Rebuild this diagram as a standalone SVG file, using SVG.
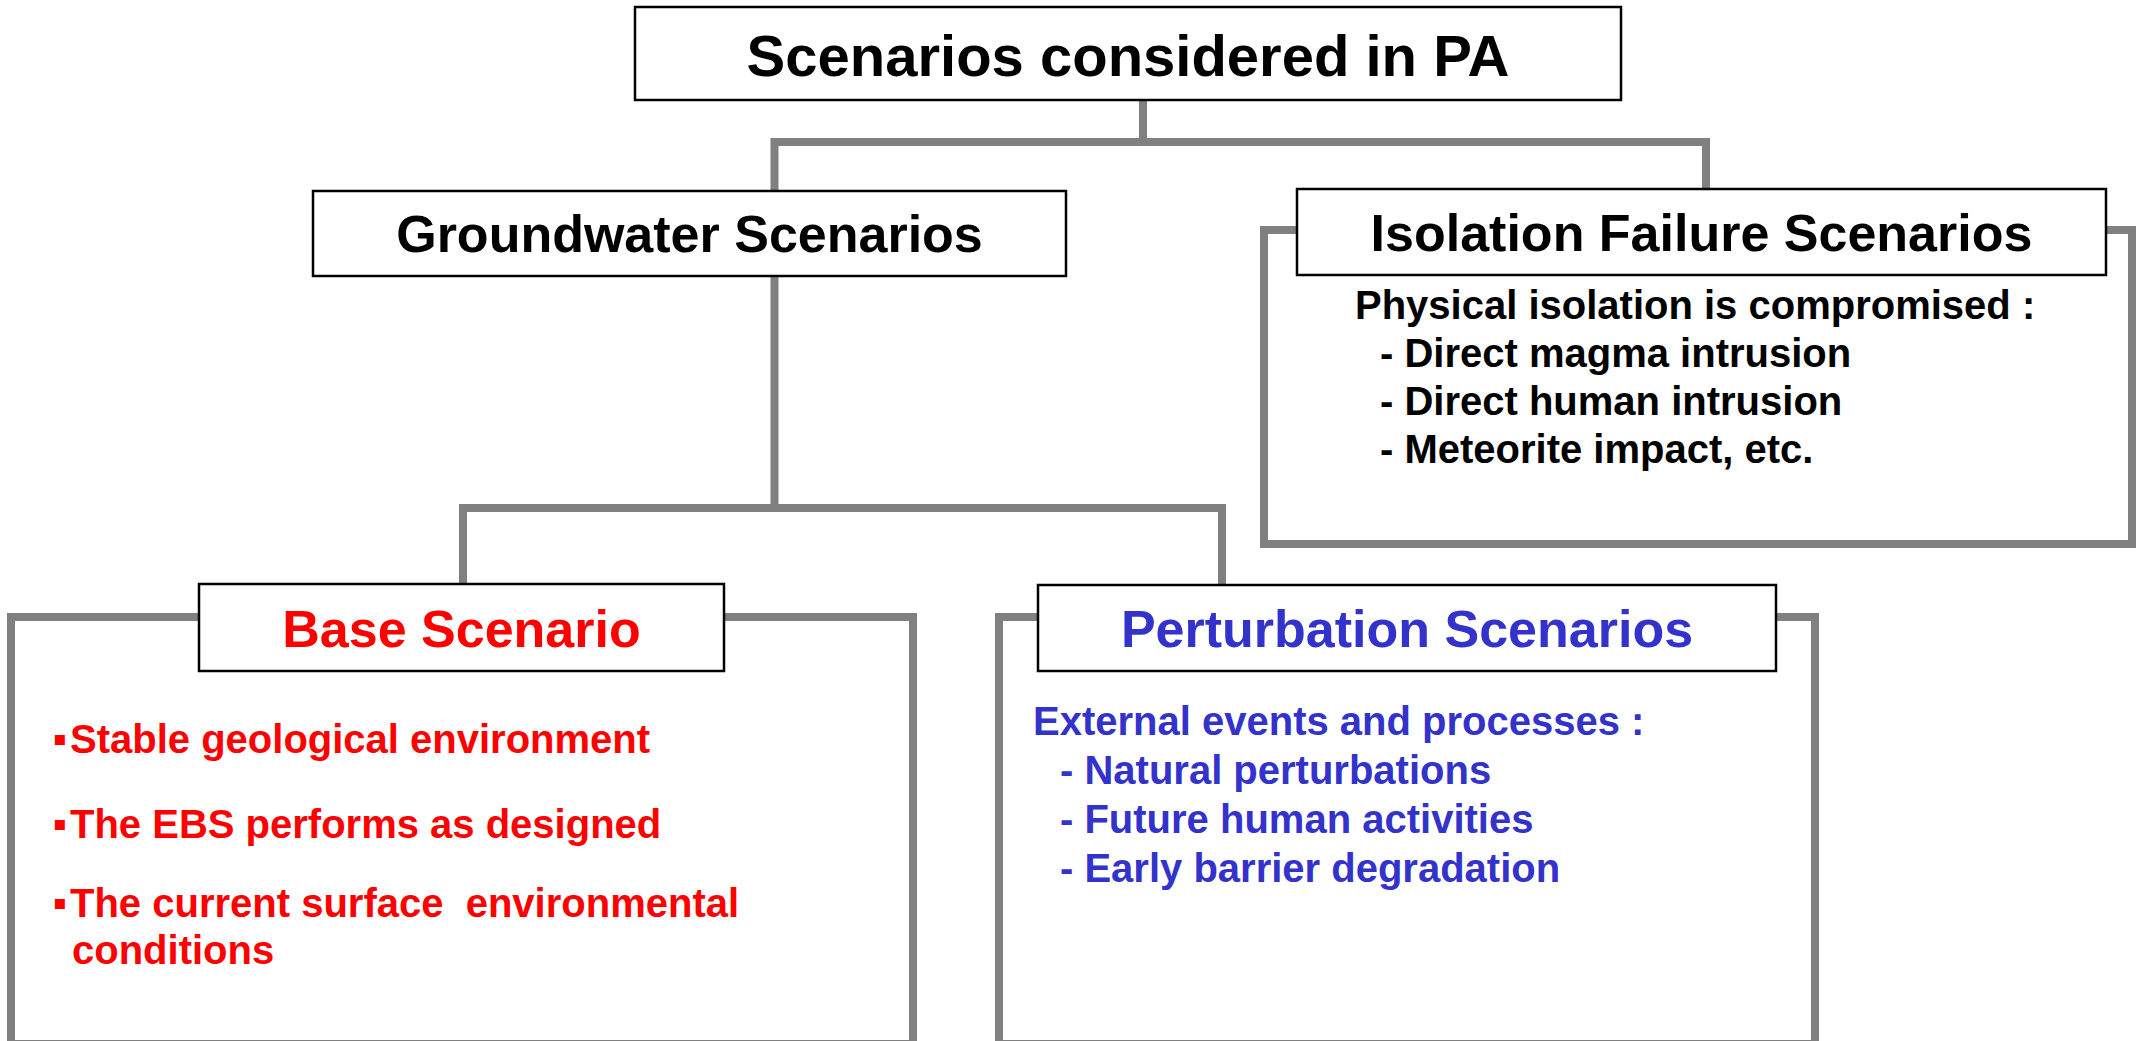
<svg xmlns="http://www.w3.org/2000/svg" width="2139" height="1041" viewBox="0 0 2139 1041">
  <style>
    .frame { fill: none; stroke: #808080; stroke-width: 8; }
    .link { fill: none; stroke: #808080; stroke-width: 8; stroke-linejoin: miter; stroke-linecap: butt; }
    .box { fill: #ffffff; stroke: #000000; stroke-width: 2.5; }
    .title { font-family: "Liberation Sans", Arial, sans-serif; font-weight: bold; font-size: 58px; fill: #000000; text-anchor: middle; }
    .head { font-family: "Liberation Sans", Arial, sans-serif; font-weight: bold; font-size: 52px; text-anchor: middle; }
    .body { font-family: "Liberation Sans", Arial, sans-serif; font-weight: bold; font-size: 40px; white-space: pre; }
    .dot { font-family: "DejaVu Sans", sans-serif; font-size: 20px; }
    .black { fill: #000000; }
    .red { fill: #ff0000; }
    .blue { fill: #3333cc; }
  </style>
  <rect x="0" y="0" width="2139" height="1041" fill="#ffffff"/>

  <!-- grey frames around the detail panels -->
  <g id="frames">
    <rect class="frame" x="1264" y="230" width="868" height="314"/>
    <rect class="frame" x="11" y="617" width="902" height="427"/>
    <rect class="frame" x="999" y="617" width="816" height="427"/>
  </g>

  <!-- tree connectors -->
  <g id="connectors">
    <path class="link" d="M1143,100 V142"/>
    <path class="link" d="M774.5,191 V142 H1706 V189"/>
    <path class="link" d="M774.5,276 V508"/>
    <path class="link" d="M463,585 V508 H1222 V585"/>
  </g>

  <g id="node-pa">
    <rect class="box" x="635" y="7" width="986" height="93"/>
    <text class="title" x="1128" y="76">Scenarios considered in PA</text>
  </g>

  <g id="node-groundwater">
    <rect class="box" x="313" y="191" width="753" height="85"/>
    <text class="head black" x="689.5" y="252">Groundwater Scenarios</text>
  </g>

  <g id="node-isolation">
    <rect class="box" x="1297" y="189" width="809" height="86"/>
    <text class="head black" x="1701.5" y="251">Isolation Failure Scenarios</text>
    <text class="body black" x="1355" y="319">Physical isolation is compromised :</text>
    <text class="body black" x="1380" y="367">- Direct magma intrusion</text>
    <text class="body black" x="1380" y="415">- Direct human intrusion</text>
    <text class="body black" x="1380" y="463">- Meteorite impact, etc.</text>
  </g>

  <g id="node-base">
    <rect class="box" x="199" y="584" width="525" height="87"/>
    <text class="head red" x="461.5" y="647">Base Scenario</text>
    <text class="dot red" x="53" y="745">▪</text>
    <text class="body red" x="70" y="753">Stable geological environment</text>
    <text class="dot red" x="53" y="830">▪</text>
    <text class="body red" x="70" y="838">The EBS performs as designed</text>
    <text class="dot red" x="53" y="909">▪</text>
    <text class="body red" x="70" y="917">The current surface  environmental</text>
    <text class="body red" x="72" y="964">conditions</text>
  </g>

  <g id="node-perturbation">
    <rect class="box" x="1038" y="585" width="738" height="86"/>
    <text class="head blue" x="1407" y="647">Perturbation Scenarios</text>
    <text class="body blue" x="1033" y="735">External events and processes :</text>
    <text class="body blue" x="1060" y="784">- Natural perturbations</text>
    <text class="body blue" x="1060" y="833">- Future human activities</text>
    <text class="body blue" x="1060" y="882">- Early barrier degradation</text>
  </g>
</svg>
